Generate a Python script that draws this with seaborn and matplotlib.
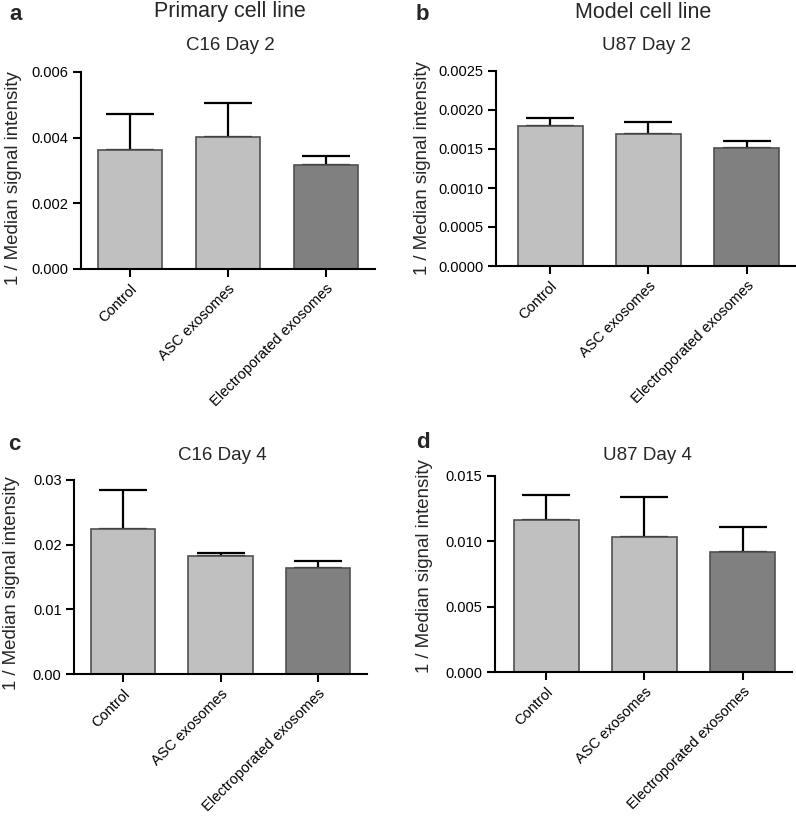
import matplotlib
matplotlib.use("Agg")
import matplotlib.pyplot as plt
import seaborn as sns
import numpy as np
from matplotlib.ticker import FormatStrFormatter

groups = ["Control", "ASC exosomes", "Electroporated exosomes"]
bar_colors = ["#c0c0c0", "#c0c0c0", "#808080"]

# mean and upper error bar end
c16_day2_mean = [0.00362, 0.00401, 0.00318]
c16_day2_top = [0.00473, 0.00505, 0.00345]
u87_day2_mean = [0.00180, 0.00169, 0.00151]
u87_day2_top = [0.00190, 0.00184, 0.00160]
c16_day4_mean = [0.02237, 0.01819, 0.01638]
c16_day4_top = [0.02844, 0.01866, 0.01747]
u87_day4_mean = [0.01162, 0.01035, 0.00920]
u87_day4_top = [0.01351, 0.01343, 0.01112]

sns.set_style("ticks")
plt.rcParams['font.family'] = ['Liberation Sans', 'DejaVu Sans']

fig = plt.figure(figsize=(7.96, 8.16), dpi=100)
W, H = 796, 816


def px_axes(left, top, right, bottom):
    return fig.add_axes([left / W, 1 - bottom / H, (right - left) / W, (bottom - top) / H])


def px_text(x, y, s, **kw):
    fig.text(x / W, 1 - y / H, s, **kw)


panels = [
    # (box, means, tops, ticks, fmt, title, title_xy, letter, letter_xy, xlim_left, label_xy)
    ((81, 72, 375, 269), c16_day2_mean, c16_day2_top, np.arange(0, 0.0061, 0.002), "%.3f",
     "C16 Day 2", (230, 45), "a", (9, 14), -0.5, (22, 0.46)),
    ((496, 71, 796, 266), u87_day2_mean, u87_day2_top, np.arange(0, 0.00251, 0.0005), "%.4f",
     "U87 Day 2", (646, 45), "b", (416, 14), -0.55, (431, 0.5)),
    ((74, 480, 367, 674), c16_day4_mean, c16_day4_top, np.arange(0, 0.031, 0.01), "%.2f",
     "C16 Day 4", (222, 455), "c", (8, 445), -0.5, (20, 0.47)),
    ((495, 476, 792, 672), u87_day4_mean, u87_day4_top, np.arange(0, 0.0151, 0.005), "%.3f",
     "U87 Day 4", (647, 456), "d", (416, 443), -0.52, (433, 0.54)),
]

for box, means, tops, ticks, fmt, title, txy, letter, lxy, xl, lab in panels:
    ax = px_axes(*box)
    sns.barplot(x=groups, y=means, hue=groups, palette=bar_colors, legend=False,
                width=0.66, edgecolor="#505050", linewidth=1.2, ax=ax)
    err = np.array(tops) - np.array(means)
    ax.errorbar(range(len(groups)), means, yerr=[np.zeros(len(err)), err],
                fmt="none", ecolor="black", elinewidth=1.6, capsize=17, capthick=1.6,
                zorder=1)
    for p in ax.patches:
        p.set_zorder(2)
    ax.set_xlim(xl, 2.5)
    ax.set_ylim(0, ticks[-1])
    ax.set_yticks(ticks)
    ax.yaxis.set_major_formatter(FormatStrFormatter(fmt))
    sns.despine(ax=ax)
    for s in ["left", "bottom"]:
        ax.spines[s].set_linewidth(1.5)
        ax.spines[s].set_color("black")
    ax.tick_params(axis="both", width=1.5, length=5.5, color="black", labelsize=10.5,
                   labelcolor="black")
    ax.set_xticks(range(len(groups)))
    ax.set_xticklabels(groups, rotation=45, ha="right", rotation_mode="anchor")
    ax.set_ylabel("1 / Median signal intensity", fontsize=13.4)
    ax.yaxis.set_label_coords((lab[0] - box[0]) / (box[2] - box[0]), lab[1])
    px_text(txy[0], txy[1], title, fontsize=13.5, ha="center", va="center")
    px_text(lxy[0], lxy[1], letter, fontsize=16, fontweight="bold", ha="left", va="center")

px_text(230, 12, "Primary cell line", fontsize=15.5, ha="center", va="center")
px_text(643, 12, "Model cell line", fontsize=15.5, ha="center", va="center")

fig.savefig("out.png", dpi=100)
